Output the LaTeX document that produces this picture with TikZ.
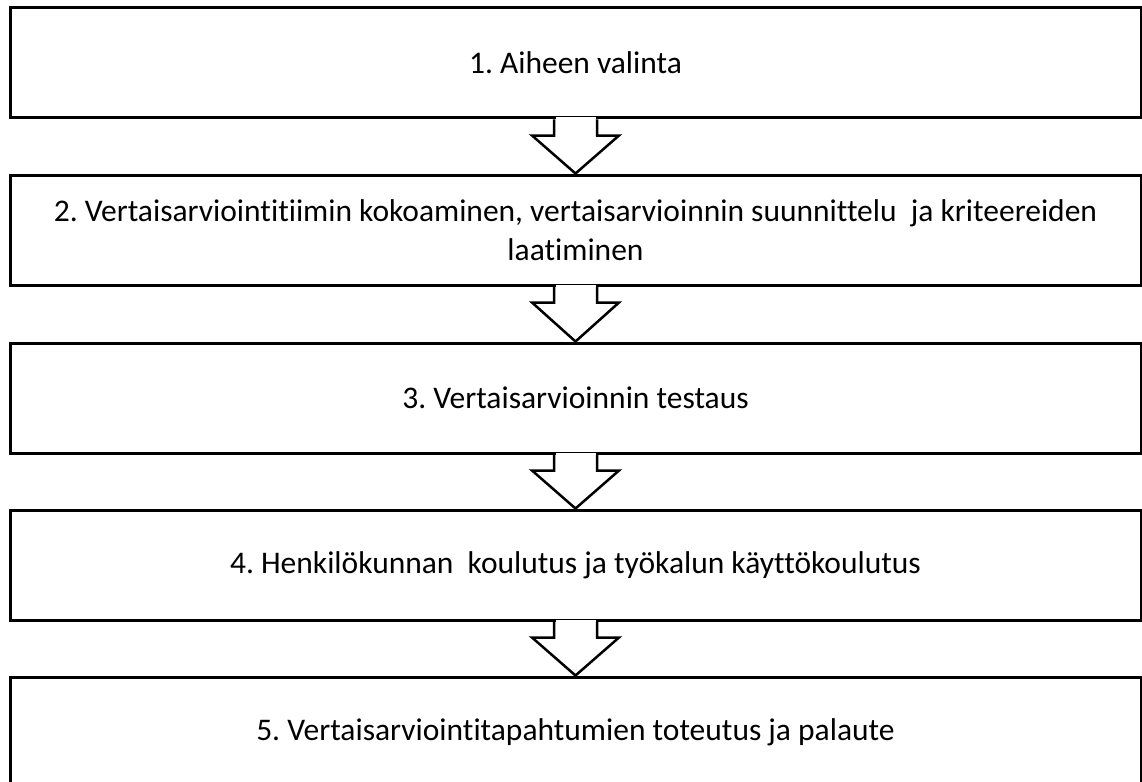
\documentclass[tikz,border=0pt]{standalone}
\usepackage{fontspec}
\setmainfont{Carlito}[Ligatures={NoCommon,NoRequired,NoContextual}]
\usetikzlibrary{calc}
\begin{document}
\frenchspacing
\begin{tikzpicture}[x=1pt,y=-1pt,
  stepbox/.style={draw=black,line width=3pt,rectangle,inner sep=0pt,
    minimum width=1131pt,minimum height=110pt,align=center,
    font=\fontsize{31.5}{39}\selectfont},
  flowarrow/.style={draw=black,line width=2.5pt,line join=miter}]
\useasboundingbox (0,0) rectangle (1142,781);
\clip (0,0) rectangle (1142,781);
\node[stepbox] (b1) at (575.5,63) {1. Aiheen valinta};
\node[stepbox] (b2) at (575.5,230) {2. Vertaisarviointitiimin kokoaminen, vertaisarvioinnin suunnittelu\ \ ja kriteereiden\\laatiminen};
\node[stepbox] (b3) at (575.5,398) {3. Vertaisarvioinnin testaus};
\node[stepbox] (b4) at (575.5,565) {4. Henkilökunnan\ \ koulutus ja työkalun käyttökoulutus};
\node[stepbox] (b5) at (575.5,732) {5. Vertaisarviointitapahtumien toteutus ja palaute};
\foreach \a/\b in {b1/b2,b2/b3,b3/b4,b4/b5}{
  \fill[white] ($(\a.south)+(-20,-2)$) rectangle ($(\a.south)+(20,2)$);
  \draw[flowarrow] ($(\a.south)+(-21.5,0)$) -- ++(0,16) -- ++(-22,0) -- (\b.north)
     -- ($(\a.south)+(43.5,16)$) -- ++(-22,0) -- ++(0,-16);
}
\end{tikzpicture}
\end{document}
